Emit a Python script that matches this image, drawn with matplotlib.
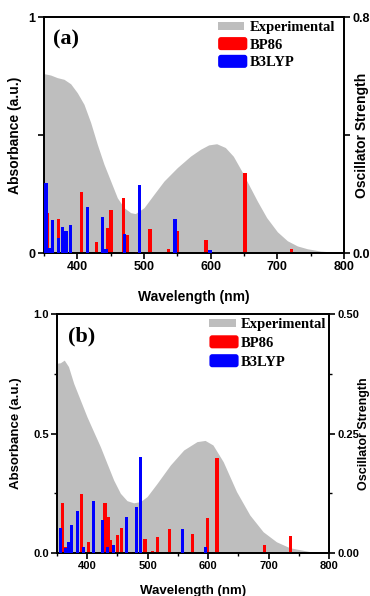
import matplotlib
matplotlib.use("Agg")
import matplotlib.pyplot as plt
from matplotlib.patches import Patch, Rectangle, FancyBboxPatch
from matplotlib.legend_handler import HandlerPatch
from matplotlib.ticker import FixedLocator, MultipleLocator

# ---------------- data: panel (a) ----------------
a_exp_wl = [350, 360, 370, 380, 390, 400, 410, 420, 430, 440, 450, 460, 470, 480,
            487, 500, 515, 530, 550, 570, 585, 597, 609, 622, 634, 646, 658, 670,
            684, 700, 715, 730, 745, 765, 785, 800]
a_exp_abs = [0.76, 0.754, 0.743, 0.736, 0.717, 0.679, 0.63, 0.553, 0.46, 0.376, 0.305,
             0.234, 0.192, 0.171, 0.167, 0.192, 0.249, 0.305, 0.362, 0.411, 0.44,
             0.458, 0.463, 0.447, 0.41, 0.35, 0.285, 0.22, 0.15, 0.09, 0.052, 0.03,
             0.018, 0.008, 0.004, 0.003]
a_bp86_wl = [355, 371.5, 406.5, 429, 445.5, 450.5, 469, 475, 489.5, 509, 536.5, 550,
             593, 651.5, 721.5]
a_bp86_f = [0.137, 0.114, 0.208, 0.037, 0.086, 0.145, 0.186, 0.061, 0.004, 0.082,
            0.013, 0.075, 0.045, 0.27, 0.013]
a_b3lyp_wl = [353, 358, 363, 371.5, 378, 383, 390, 415, 438, 443, 471, 493, 546.5, 599]
a_b3lyp_f = [0.238, 0.018, 0.111, 0.052, 0.089, 0.075, 0.094, 0.156, 0.123, 0.015,
             0.064, 0.229, 0.116, 0.01]

# ---------------- data: panel (b) ----------------
b_exp_wl = [350, 355.5, 362, 369, 377.6, 388.6, 399.6, 410.7, 421.7, 432.7, 443.8,
            454.8, 465.8, 476.8, 487.9, 499, 515.5, 537.5, 559.6, 581.6, 595, 608,
            625, 647, 669, 691, 713, 735, 768, 800]
b_exp_abs = [0.794, 0.796, 0.807, 0.78, 0.71, 0.64, 0.57, 0.507, 0.445, 0.375, 0.305,
             0.25, 0.219, 0.21, 0.215, 0.236, 0.291, 0.368, 0.431, 0.466, 0.471,
             0.452, 0.382, 0.257, 0.159, 0.089, 0.047, 0.022, 0.006, 0.002]
b_bp86_wl = [359.4, 363.5, 390.8, 402, 429.4, 434.9, 438.8, 450.7, 456.3, 471, 495.6,
             507.7, 516, 535.9, 573.4, 598.7, 614.7, 693, 736.6]
b_bp86_f = [0.105, 0.013, 0.123, 0.024, 0.105, 0.075, 0.027, 0.038, 0.052, 0.003,
            0.029, 0.005, 0.033, 0.05, 0.04, 0.0725, 0.1995, 0.017, 0.036]
b_b3lyp_wl = [356, 363.3, 368.7, 374.3, 383.6, 393.6, 410.1, 425, 433, 443, 464.5,
              481.1, 488.4, 557.4, 594.9]
b_b3lyp_f = [0.052, 0.01, 0.024, 0.059, 0.088, 0.013, 0.109, 0.07, 0.013, 0.017,
             0.075, 0.096, 0.2015, 0.05, 0.012]

legend_labels = ["Experimental", "BP86", "B3LYP"]
x_ticks = [400, 500, 600, 700, 800]

GRAY = "#bebebe"
RED = "#ff0000"
BLUE = "#0000ff"
SANS = "Liberation Sans"
SERIF = "Liberation Serif"

fig = plt.figure(figsize=(3.7, 5.96), dpi=100)


def make_legend_patch(legend, orig_handle, xdescent, ydescent, width, height, fontsize):
    fc = orig_handle.get_facecolor()
    if orig_handle.get_label() == "exp":
        return Rectangle((-xdescent, -ydescent + height * 0.2), width * 0.9,
                         height * 0.62, facecolor=fc, edgecolor="none")
    return FancyBboxPatch((-xdescent, -ydescent), width, height,
                          boxstyle="round,pad=0,rounding_size=2",
                          facecolor=fc, edgecolor="none")


def panel(rect, exp_wl, exp_abs, bp_wl, bp_f, b3_wl, b3_f, ymax_r,
          lticks, llabels, lminor, rticks, rlabels, rminor, tag,
          tick_fs, lab_fs, ylab_x, y2lab_x, xlab_y, tag_xy, leg_anchor, bw, lspace,
          rlab_fs):
    ax = fig.add_axes(rect)
    ax.fill_between(exp_wl, 0, exp_abs, color=GRAY, lw=0, zorder=1)
    ax.set_xlim(350, 800)
    ax.set_ylim(0, 1)
    ax2 = ax.twinx()
    ax2.bar(bp_wl, bp_f, width=bw, color=RED, lw=0, zorder=2)
    ax2.bar(b3_wl, b3_f, width=bw, color=BLUE, lw=0, zorder=3)
    ax2.set_ylim(0, ymax_r)
    ax2.set_xlim(350, 800)

    ax.xaxis.set_major_locator(FixedLocator(x_ticks))
    ax.xaxis.set_minor_locator(MultipleLocator(50))
    ax.yaxis.set_major_locator(FixedLocator(lticks))
    ax.set_yticklabels(llabels)
    if lminor:
        ax.yaxis.set_minor_locator(FixedLocator(lminor))
    ax2.yaxis.set_major_locator(FixedLocator(rticks))
    ax2.set_yticklabels(rlabels)
    if rminor:
        ax2.yaxis.set_minor_locator(FixedLocator(rminor))

    for a in (ax, ax2):
        for s in a.spines.values():
            s.set_linewidth(1.3)
        a.tick_params(which="major", direction="out", length=4, width=1.2,
                      labelsize=tick_fs, pad=2)
        a.tick_params(which="minor", direction="out", length=2.5, width=1.0)
        for lab in a.get_xticklabels() + a.get_yticklabels():
            lab.set_fontfamily(SANS)
            lab.set_fontweight("bold")
    ax.tick_params(axis="x", which="both", top=False)

    ax.set_xlabel("Wavelength (nm)", fontfamily=SANS, fontweight="bold",
                  fontsize=lab_fs)
    ax.xaxis.set_label_coords(0.5, xlab_y)
    ax.set_ylabel("Absorbance (a.u.)", fontfamily=SANS, fontweight="bold",
                  fontsize=lab_fs)
    ax.yaxis.set_label_coords(ylab_x, 0.5)
    ax2.set_ylabel("Oscillator Strength", fontfamily=SANS, fontweight="bold",
                   fontsize=rlab_fs)
    ax2.yaxis.set_label_coords(y2lab_x, 0.5)

    ax2.text(tag_xy[0], tag_xy[1], tag, transform=ax2.transAxes,
             fontfamily=SERIF, fontweight="bold", fontsize=16,
             ha="left", va="center")

    handles = [Patch(facecolor=GRAY, edgecolor="none", label="exp"),
               Patch(facecolor=RED, edgecolor="none", label="r"),
               Patch(facecolor=BLUE, edgecolor="none", label="b")]
    ax2.legend(handles, legend_labels, loc="upper right",
               bbox_to_anchor=leg_anchor, frameon=False,
               prop={"family": SERIF, "weight": "bold", "size": 10.5},
               handlelength=2.0, handleheight=1.0, handletextpad=0.15,
               labelspacing=lspace, borderaxespad=0.0, borderpad=0.0,
               handler_map={Patch: HandlerPatch(patch_func=make_legend_patch)})
    return ax, ax2


panel([44 / 370, 1 - 253 / 596, 300 / 370, 236 / 596],
      a_exp_wl, a_exp_abs, a_bp86_wl, a_bp86_f, a_b3lyp_wl, a_b3lyp_f, 0.8,
      [0, 0.5, 1], ["0", "", "1"], None,
      [0, 0.4, 0.8], ["0.0", "", "0.8"], None,
      "(a)", 9, 10, -0.073, 1.036, -0.155, (0.03, 0.905), (0.97, 0.99), 5, 0.22,
      10)

panel([57 / 370, 1 - 553 / 596, 272 / 370, 239 / 596],
      b_exp_wl, b_exp_abs, b_bp86_wl, b_bp86_f, b_b3lyp_wl, b_b3lyp_f, 0.5,
      [0, 0.5, 1.0], ["0.0", "0.5", "1.0"], [0.25, 0.75],
      [0, 0.25, 0.5], ["0.00", "0.25", "0.50"], [0.125, 0.375],
      "(b)", 8, 9.5, -0.129, 1.106, -0.135, (0.04, 0.905), (0.99, 0.99), 5, 0.3,
      9)

fig.savefig("out.png", dpi=100)
